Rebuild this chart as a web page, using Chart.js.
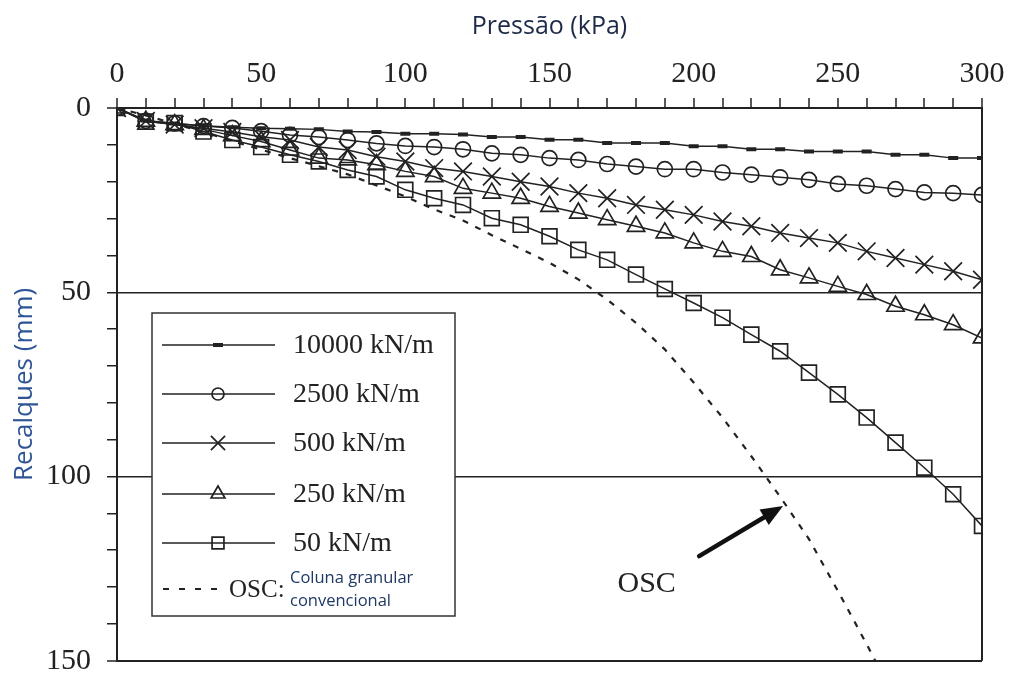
<!DOCTYPE html>
<html>
<head>
<meta charset="utf-8">
<script src="https://cdn.jsdelivr.net/npm/chart.js@4"></script>
<style>
  html, body { margin: 0; padding: 0; background: #ffffff; }
  #wrap { width: 1010px; height: 675px; }
</style>
</head>
<body>
<div id="wrap"><canvas id="c" width="1010" height="675"></canvas></div>
<script>
// Applied pressure (kPa) at each load step
const pressure = [0, 10, 20, 30, 40, 50, 60, 70, 80, 90, 100, 110, 120, 130, 140, 150,
                  160, 170, 180, 190, 200, 210, 220, 230, 240, 250, 260, 270, 280, 290, 300];

// Settlement (mm) for each geosynthetic encasement stiffness
const s10000 = [0, 3.4, 4.2, 4.8, 5.2, 5.5, 5.6, 5.8, 6.4, 6.5, 7.0, 7.0, 7.2, 7.9, 7.9, 8.6,
                8.6, 9.5, 9.5, 9.5, 10.4, 10.4, 11.2, 11.2, 11.8, 11.8, 11.8, 12.7, 12.7, 13.6, 13.6];
const s2500  = [0, 3.5, 4.2, 4.9, 5.4, 6.3, 7.3, 7.9, 8.7, 9.6, 10.3, 10.6, 11.2, 12.3, 12.7, 13.6,
                14.1, 15.2, 15.9, 16.6, 16.6, 17.5, 18.1, 18.8, 19.5, 20.6, 21.1, 22.0, 22.9, 23.1, 23.6];
const s500   = [0, 3.5, 4.5, 5.5, 6.5, 7.8, 8.7, 10.6, 11.4, 13.2, 14.5, 16.3, 17.2, 18.6, 20.0, 21.3,
                23.1, 24.5, 26.3, 27.6, 29.0, 30.8, 32.1, 33.9, 35.3, 36.6, 38.9, 40.7, 42.5, 44.3, 46.6];
const s250   = [0, 3.6, 4.5, 5.8, 7.5, 9.1, 11.4, 13.6, 14.1, 15.4, 17.2, 18.6, 21.8, 23.1, 24.5, 26.7,
                28.5, 30.3, 32.1, 33.9, 36.6, 38.9, 40.3, 43.9, 46.1, 48.4, 50.6, 53.8, 56.1, 58.8, 62.4];
const s50    = [0, 3.7, 4.1, 6.4, 8.7, 10.6, 12.7, 14.5, 16.8, 18.6, 22.2, 24.5, 26.3, 29.9, 31.7, 34.8,
                38.5, 41.2, 45.2, 49.1, 52.9, 56.9, 61.5, 66.0, 71.8, 77.7, 84.0, 90.8, 97.6, 104.8, 113.4];

// Ordinary (unencased) stone column
const oscPressure = [0, 10, 20, 30, 40, 50, 60, 70, 80, 90, 100, 110, 120, 130, 140, 150,
                     160, 170, 180, 190, 200, 210, 220, 230, 240, 250, 260, 263];
const oscSettlement = [0, 2.0, 4.3, 6.5, 9.0, 11.3, 13.6, 15.8, 18.0, 21.0, 24.0, 27.5, 30.5, 34.5, 38.2, 42.0,
                       46.5, 52.0, 58.3, 65.5, 74.5, 84.0, 94.5, 105.5, 117.0, 131.0, 145.5, 150.0];

// Axis tick labels
const xTickLabels = [0, 50, 100, 150, 200, 250, 300];
const yTickLabels = [0, 50, 100, 150];

const seriesLabels = ['10000 kN/m', '2500 kN/m', '500 kN/m', '250 kN/m', '50 kN/m'];
const oscLabel = 'OSC:';
const oscNote = ['Coluna granular', 'convencional'];

const INK = '#222222';
const SERIF = '"Liberation Serif", "Times New Roman", serif';
const SANS = '"Open Sans", "Noto Sans", sans-serif';

function pts(xs, ys) { return xs.map((x, i) => ({ x: x, y: ys[i] })); }

const markerStyles = [
  { pointStyle: 'line', pointRadius: 5, pointBorderWidth: 4 },
  { pointStyle: 'circle', pointRadius: 7.5, pointBorderWidth: 1.7 },
  { pointStyle: 'crossRot', pointRadius: 12.5, pointBorderWidth: 1.7 },
  { pointStyle: 'triangle', pointRadius: 10, pointBorderWidth: 1.7 },
  { pointStyle: 'rect', pointRadius: 10.5, pointBorderWidth: 1.7 }
];
const seriesValues = [s10000, s2500, s500, s250, s50];

const datasets = seriesValues.map((vals, i) => Object.assign({
  label: seriesLabels[i],
  data: pts(pressure, vals),
  borderColor: INK,
  borderWidth: 1.5,
  pointBorderColor: INK,
  pointBackgroundColor: 'rgba(0,0,0,0)',
  pointHoverRadius: 0,
  tension: 0,
  fill: false
}, markerStyles[i]));

datasets.push({
  label: oscLabel,
  data: pts(oscPressure, oscSettlement),
  borderColor: INK,
  borderWidth: 2.2,
  borderDash: [6, 8],
  pointRadius: 0,
  tension: 0,
  fill: false
});

// Boxed legend in the lower-left of the plot plus the OSC pointer
const overlayPlugin = {
  id: 'overlay',
  afterDatasetsDraw(chart) {
    const ctx = chart.ctx;
    const xs = chart.scales.x, ys = chart.scales.y;
    // arrow pointing at the OSC curve
    const tail = { x: xs.getPixelForValue(201.9), y: ys.getPixelForValue(121.6) };
    const tip = { x: xs.getPixelForValue(231), y: ys.getPixelForValue(108) };
    const ang = Math.atan2(tip.y - tail.y, tip.x - tail.x);
    const headLen = 22, headHalf = 9;
    const baseX = tip.x - headLen * Math.cos(ang), baseY = tip.y - headLen * Math.sin(ang);
    ctx.save();
    ctx.strokeStyle = '#111';
    ctx.fillStyle = '#111';
    ctx.lineWidth = 4.5;
    ctx.lineCap = 'round';
    ctx.beginPath();
    ctx.moveTo(tail.x, tail.y);
    ctx.lineTo(baseX + 4 * Math.cos(ang), baseY + 4 * Math.sin(ang));
    ctx.stroke();
    ctx.beginPath();
    ctx.moveTo(tip.x, tip.y);
    ctx.lineTo(baseX + headHalf * Math.sin(ang), baseY - headHalf * Math.cos(ang));
    ctx.lineTo(baseX - headHalf * Math.sin(ang), baseY + headHalf * Math.cos(ang));
    ctx.closePath();
    ctx.fill();
    // label of the arrow
    ctx.font = '30px ' + SERIF;
    ctx.fillStyle = INK;
    ctx.textAlign = 'center';
    ctx.textBaseline = 'middle';
    ctx.fillText('OSC', xs.getPixelForValue(183.7), ys.getPixelForValue(129.3));
    ctx.restore();
  },
  afterDraw(chart) {
    const ctx = chart.ctx;
    const box = { l: 152, t: 313, r: 455, b: 616 };
    ctx.save();
    ctx.fillStyle = '#ffffff';
    ctx.fillRect(box.l, box.t, box.r - box.l, box.b - box.t);
    ctx.strokeStyle = '#333';
    ctx.lineWidth = 1.5;
    ctx.strokeRect(box.l, box.t, box.r - box.l, box.b - box.t);

    const lineL = 162, lineR = 275, markX = 218, textX = 293;
    const rowY = [345, 394, 443, 494, 543];
    chart.data.datasets.slice(0, 5).forEach((ds, i) => {
      const y = rowY[i];
      ctx.strokeStyle = INK;
      ctx.lineWidth = 1.5;
      ctx.setLineDash([]);
      ctx.beginPath();
      ctx.moveTo(lineL, y);
      ctx.lineTo(lineR, y);
      ctx.stroke();
      ctx.strokeStyle = INK;
      ctx.fillStyle = 'rgba(0,0,0,0)';
      ctx.lineWidth = ds.pointBorderWidth;
      const r = ds.pointStyle === 'line' ? 5 : ds.pointRadius * 0.8;
      Chart.helpers.drawPoint(ctx, { pointStyle: ds.pointStyle, rotation: 0, radius: r, borderWidth: ds.pointBorderWidth }, markX, y);
      ctx.fillStyle = INK;
      ctx.font = '28px ' + SERIF;
      ctx.textAlign = 'left';
      ctx.textBaseline = 'middle';
      ctx.fillText(ds.label, textX, y + 1);
    });

    // OSC entry
    const oy = 589;
    const osc = chart.data.datasets[5];
    ctx.strokeStyle = INK;
    ctx.lineWidth = 2.2;
    ctx.setLineDash([6, 10]);
    ctx.beginPath();
    ctx.moveTo(163, oy);
    ctx.lineTo(222, oy);
    ctx.stroke();
    ctx.setLineDash([]);
    ctx.fillStyle = INK;
    ctx.font = '25px ' + SERIF;
    ctx.textAlign = 'left';
    ctx.textBaseline = 'middle';
    ctx.fillText(osc.label, 229, oy + 1);
    ctx.fillStyle = '#1f3864';
    ctx.font = '16.5px ' + SANS;
    ctx.fillText(oscNote[0], 290, 578);
    ctx.fillText(oscNote[1], 290, 601);
    ctx.restore();
  }
};

new Chart(document.getElementById('c'), {
  type: 'line',
  data: { datasets: datasets },
  plugins: [overlayPlugin],
  options: {
    responsive: false,
    animation: false,
    events: [],
    layout: { padding: { left: 0, top: 0, right: 28, bottom: 13 } },
    plugins: { legend: { display: false }, tooltip: { enabled: false } },
    scales: {
      x: {
        type: 'linear',
        position: 'top',
        min: 0,
        max: 300,
        afterFit(scale) { scale.height = 108; scale.paddingLeft = 0; scale.paddingRight = 0; },
        ticks: {
          stepSize: 10,
          autoSkip: false,
          maxRotation: 0,
          padding: 6,
          color: INK,
          font: { family: SERIF, size: 30 },
          callback: (v) => xTickLabels.includes(v) ? String(v) : ''
        },
        grid: {
          drawOnChartArea: true,
          color: (c) => (c.tick && (c.tick.value === 0 || c.tick.value === 300)) ? INK : 'rgba(0,0,0,0)',
          lineWidth: 2,
          tickColor: INK,
          tickLength: 10,
          tickWidth: 1.5
        },
        border: { display: true, color: INK, width: 2 },
        title: {
          display: true,
          text: 'Pressão (kPa)',
          color: '#1c2a48',
          font: { family: SANS, size: 25 },
          padding: { top: 12, bottom: 0 }
        }
      },
      y: {
        type: 'linear',
        reverse: true,
        min: 0,
        max: 150,
        afterFit(scale) { scale.width = 117; scale.paddingTop = 0; scale.paddingBottom = 0; },
        ticks: {
          stepSize: 10,
          autoSkip: false,
          padding: 16,
          color: INK,
          font: { family: SERIF, size: 30 },
          callback: (v) => yTickLabels.includes(v) ? String(v) : ''
        },
        grid: {
          color: (c) => (c.tick && c.tick.value % 50 === 0) ? INK : 'rgba(0,0,0,0)',
          lineWidth: (c) => (c.tick && (c.tick.value === 0 || c.tick.value === 150)) ? 2 : 1.5,
          tickColor: INK,
          tickLength: 10,
          tickWidth: 1.5
        },
        border: { display: true, color: INK, width: 2 },
        title: {
          display: true,
          text: 'Recalques (mm)',
          color: '#2f5597',
          font: { family: SANS, size: 26 },
          padding: { top: 9, bottom: 0 }
        }
      }
    }
  }
});
</script>
</body>
</html>
